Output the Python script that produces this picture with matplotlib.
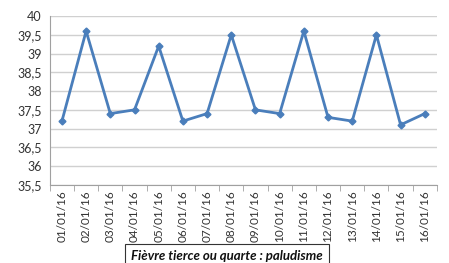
import matplotlib.pyplot as plt
from matplotlib.ticker import FixedLocator, FuncFormatter

dates = ['01/01/16', '02/01/16', '03/01/16', '04/01/16', '05/01/16', '06/01/16',
         '07/01/16', '08/01/16', '09/01/16', '10/01/16', '11/01/16', '12/01/16',
         '13/01/16', '14/01/16', '15/01/16', '16/01/16']
temperature = [37.2, 39.6, 37.4, 37.5, 39.2, 37.2, 37.4, 39.5,
               37.5, 37.4, 39.6, 37.3, 37.2, 39.5, 37.1, 37.4]
y_ticks = [35.5, 36, 36.5, 37, 37.5, 38, 38.5, 39, 39.5, 40]
title = 'Fièvre tierce ou quarte : paludisme'

plt.rcParams['font.family'] = ['Lato', 'DejaVu Sans']

fig = plt.figure(figsize=(4.49, 2.63), dpi=100)
ax = fig.add_axes([0.111, 0.297, 0.862, 0.642])

x = list(range(len(dates)))
ax.plot(x, temperature, color='#4a7ebb', linewidth=2, marker='D', markersize=3.5,
        zorder=3)

ax.set_xlim(-0.5, len(dates) - 0.5)
ax.set_ylim(35.5, 40)
ax.set_yticks(y_ticks)
ax.yaxis.set_major_formatter(FuncFormatter(lambda v, p: ('%g' % v).replace('.', ',')))
ax.yaxis.grid(True, color='#d0d0d0', linewidth=1)
ax.set_axisbelow(True)

ax.set_xticks(x)
ax.set_xticklabels(dates, rotation=90, fontsize=8.5, color='#333333')
ax.tick_params(axis='x', which='major', length=0, pad=4)
ax.xaxis.set_minor_locator(FixedLocator([i - 0.5 for i in range(len(dates) + 1)]))
ax.tick_params(axis='x', which='minor', length=4, color='#a0a0a0', direction='out')
ax.tick_params(axis='y', length=0, labelsize=9, colors='#333333', pad=6)
ax.tick_params(axis='y', which='major', labelcolor='#333333')

for s in ['top', 'right']:
    ax.spines[s].set_visible(False)
ax.spines['left'].set_color('#a0a0a0')
ax.spines['bottom'].set_color('#a0a0a0')

fig.text(0.506, 0.025, title, ha='center', va='center', fontsize=9.5,
         fontweight='bold', style='italic', color='#111111',
         bbox=dict(boxstyle='square,pad=0.45', facecolor='white',
                   edgecolor='#333333', linewidth=0.8))

fig.savefig('out.png', dpi=100)
